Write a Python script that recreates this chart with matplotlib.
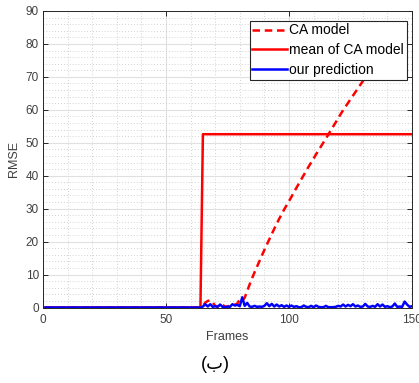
import matplotlib
matplotlib.use("Agg")
import matplotlib.pyplot as plt
from matplotlib.ticker import MultipleLocator

plt.rcParams['font.family'] = ['Liberation Sans', 'DejaVu Sans']

# CA model RMSE (dashed): flat zero until frame 64, then small noise, then growth
ca_frames = [1, 64, 65, 66, 67, 68, 69, 70, 71, 72, 73, 74, 75, 76, 77, 78, 79, 80,
             81, 82, 83, 84, 85, 86, 87, 88, 89, 90, 91, 92, 93, 94, 95, 96, 97, 98,
             99, 100, 101, 102, 103, 104, 105, 106, 107, 108, 109, 110, 111, 112,
             113, 114, 115, 116, 117, 118, 119, 120, 121, 122, 123, 124, 125, 126,
             127, 128, 129, 130, 131, 132, 133, 134, 135, 136, 137, 138, 139, 140]
ca_rmse = [0, 0, 0.5, 1.5, 2.0, 2.2, 1.5, 0.5, 0.3, 1.0, 0.8, 0.3, 0.2, 0.6, 1.0,
           0.8, 1.2, 2.5, 2.0, 3.0, 5.0, 7.0, 8.9, 10.7, 12.4, 14.1, 15.8, 17.5,
           19.1, 20.7, 22.3, 23.9, 25.4, 26.9, 28.3, 29.7, 31.0, 32.3, 33.6, 35.0,
           36.3, 37.6, 38.9, 40.2, 41.5, 42.8, 44.0, 45.2, 46.5, 47.7, 48.9, 50.1,
           51.3, 52.5, 53.8, 55.0, 56.2, 57.5, 58.7, 59.9, 61.0, 62.1, 63.2, 64.3,
           65.4, 66.5, 67.6, 68.7, 69.8, 70.9, 71.9, 72.9, 73.9, 74.9, 75.9, 76.8,
           77.7, 78.6]

# mean of CA model
mean_frames = [1, 64, 65, 150]
mean_rmse = [0, 0, 52.6, 52.6]

# our prediction
pred_frames = [1] + list(range(64, 151))
pred_rmse = [0, 0, 0.3, 1.0, 0.3, 1.0, 0.2, 0.4, 0.2, 0.9, 0.2, 0.1, 0.3, 0.2, 1.0,
             0.6, 0.8, 0.4, 3.1, 0.5, 1.4, 0.3, 0.2, 0.5, 0.2, 0.3, 0.2, 0.5, 1.3,
             0.4, 1.1, 0.3, 0.9, 0.3, 0.7, 0.2, 0.6, 0.2, 0.6, 0.2, 0.4, 0.1, 0.1,
             0.6, 0.2, 0.1, 0.5, 0.1, 0.6, 0.2, 0.1, 0.1, 0.5, 0.1, 0.1, 0.1, 0.2,
             0.5, 0.3, 0.9, 0.3, 0.8, 0.4, 1.0, 0.3, 0.6, 0.2, 0.3, 1.1, 0.3, 0.2,
             0.5, 0.2, 1.0, 0.3, 0.9, 0.2, 0.4, 0.1, 0.3, 1.2, 0.2, 0.3, 0.2, 1.8,
             0.9, 0.2, 0.4]

x_ticks = [0, 50, 100, 150]
y_ticks = list(range(0, 91, 10))

fig = plt.figure(figsize=(4.19, 3.83), dpi=100)
ax = fig.add_axes([0.1026, 0.1971, 0.8807, 0.7742])

ax.plot(ca_frames, ca_rmse, color='red', lw=1.8, ls=(0, (3.0, 1.9)), label='CA model')
ax.plot(mean_frames, mean_rmse, '-', color='red', lw=1.8, label='mean of CA model')
ax.plot(pred_frames, pred_rmse, '-', color='blue', lw=1.8, label='our prediction')

ax.set_xlim(0, 150)
ax.set_ylim(0, 90)
ax.set_xticks(x_ticks)
ax.set_yticks(y_ticks)
ax.xaxis.set_minor_locator(MultipleLocator(10))
ax.yaxis.set_minor_locator(MultipleLocator(2))

ax.grid(True, which='major', color='#e0e0e0', lw=0.8, ls='-')
ax.grid(True, which='minor', color='#c4c4c4', lw=0.6, ls=(0, (1, 2.5)))
ax.set_axisbelow(True)

grey = '#404040'
ax.tick_params(which='major', direction='in', length=3.5, width=0.7, color='#262626',
               top=True, right=True, labelsize=8.5, labelcolor=grey)
ax.tick_params(which='minor', length=0, top=True, right=True)
ax.tick_params(axis='x', pad=5)
ax.tick_params(axis='y', pad=3)
for sp in ax.spines.values():
    sp.set_color('#262626')
    sp.set_linewidth(0.7)

ax.set_xlabel('Frames', fontsize=9, color=grey, labelpad=3)
ax.set_ylabel('RMSE', fontsize=9, color=grey, labelpad=4)

leg = ax.legend(loc='upper right', bbox_to_anchor=(0.9856, 0.9673), borderaxespad=0,
                fontsize=10, handlelength=2.5, handletextpad=0.15, borderpad=0.2,
                labelspacing=0.42, fancybox=False, framealpha=1)
leg.get_frame().set_edgecolor('#262626')
leg.get_frame().set_linewidth(0.8)

fig.text(0.513, 0.047, '(ب)', ha='center', va='center', fontsize=13,
         family=['Liberation Sans', 'DejaVu Sans'])

fig.savefig('out.png', dpi=100)
